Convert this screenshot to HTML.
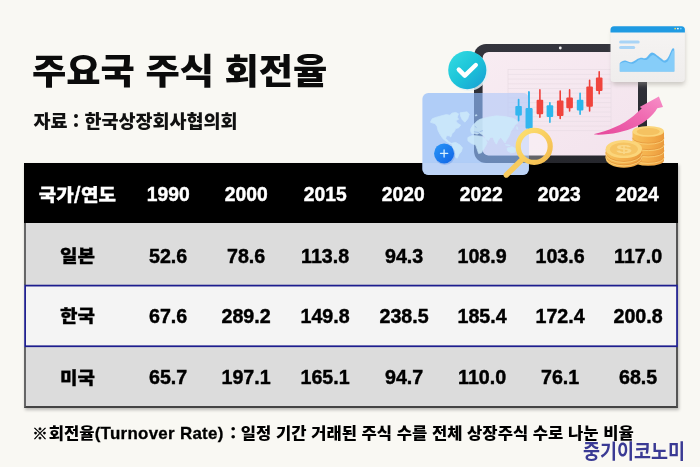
<!DOCTYPE html>
<html lang="ko">
<head>
<meta charset="utf-8">
<title>주요국 주식 회전율</title>
<style>
html,body{margin:0;padding:0;}
body{width:700px;height:467px;position:relative;overflow:hidden;background:#f9f8f3;font-family:"Liberation Sans","Noto Sans CJK KR",sans-serif;color:#111;}
.abs{position:absolute;white-space:nowrap;}
#title{left:32.4px;top:43.6px;font-size:37px;font-weight:900;line-height:54px;letter-spacing:0px;color:#0b0b0b;transform:scale(1.008,.94);transform-origin:left top;}
#sub{left:33.5px;top:106px;font-size:18.5px;line-height:28px;color:#111;}
#tbl{left:24px;top:163px;width:654px;height:245px;box-shadow:1px 2px 3px rgba(0,0,0,.25);}
.row{position:absolute;left:0;width:654px;box-sizing:border-box;}
#rh{top:0;height:60px;background:#000;color:#fff;}
#r1{top:60px;height:62px;background:#dcdcdc;color:#000;border-left:2px solid #666;border-right:2px solid #555;}
#r2{color:#000;top:121.5px;height:62px;background:#f4f4f4;border:2px solid transparent;background-clip:border-box;}
#r3{color:#000;top:183.6px;height:61.4px;background:#dcdcdc;border-left:2px solid #666;border-right:2px solid #555;border-bottom:2px solid #444;}
.c{position:absolute;top:0;height:100%;width:80px;margin-left:-40px;text-align:center;font-weight:700;font-size:20.8px;display:flex;align-items:center;justify-content:center;transform:translateX(-1.9px) scaleX(.945);-webkit-text-stroke:.45px currentColor;padding-top:3px;box-sizing:border-box;}
#rh .c{transform:translateX(.2px) scaleX(.925);padding-top:1.6px;}
#rh .c.k{transform:translateX(-.6px) scale(1.035,.93);}
.c.k{font-size:18.4px;transform:translate(-2.5px,.3px) scale(1.035,.93);padding-top:0;-webkit-text-stroke:.3px currentColor;}
.k{font-family:"Noto Sans CJK KR",sans-serif;font-weight:900;}
#note{left:32.3px;top:420px;font-size:16.6px;font-weight:700;line-height:24px;color:#000;}
#note .k{display:inline-block;transform:scaleY(.93);transform-origin:center 55%;}
#note .e{font-size:16.9px;letter-spacing:.3px;-webkit-text-stroke:.3px #000;}
#logo{left:582.6px;top:436.1px;font-size:20.6px;line-height:28px;font-weight:700;color:#3a3a94;transform:scaleX(.898);transform-origin:left center;font-family:"Noto Sans CJK KR",sans-serif;}
#r2 .c,#r3 .c{margin-top:-1.1px;}
</style>
</head>
<body>
<div id="title" class="abs k">주요국 주식 회전율</div>
<div id="sub" class="abs k">자료 : 한국상장회사협의회</div>

<div id="tbl" class="abs">
  <div id="rh" class="row">
    <div class="c k" style="left:54px">국가/연도</div>
    <div class="c" style="left:144px">1990</div>
    <div class="c" style="left:222px">2000</div>
    <div class="c" style="left:301px">2015</div>
    <div class="c" style="left:379px">2020</div>
    <div class="c" style="left:457px">2022</div>
    <div class="c" style="left:535px">2023</div>
    <div class="c" style="left:613px">2024</div>
  </div>
  <div id="r1" class="row">
    <div class="c k" style="left:54px">일본</div>
    <div class="c" style="left:144px">52.6</div>
    <div class="c" style="left:222.2px">78.6</div>
    <div class="c" style="left:301.4px">113.8</div>
    <div class="c" style="left:379.6px">94.3</div>
    <div class="c" style="left:457.8px">108.9</div>
    <div class="c" style="left:536px">103.6</div>
    <div class="c" style="left:614.2px">117.0</div>
  </div>
  <div id="r2" class="row">
    <div class="c k" style="left:54px">한국</div>
    <div class="c" style="left:144px">67.6</div>
    <div class="c" style="left:222.2px">289.2</div>
    <div class="c" style="left:301.4px">149.8</div>
    <div class="c" style="left:379.6px">238.5</div>
    <div class="c" style="left:457.8px">185.4</div>
    <div class="c" style="left:536px">172.4</div>
    <div class="c" style="left:614.2px">200.8</div>
  </div>
  <div id="r3" class="row">
    <div class="c k" style="left:54px">미국</div>
    <div class="c" style="left:144px">65.7</div>
    <div class="c" style="left:222.2px">197.1</div>
    <div class="c" style="left:301.4px">165.1</div>
    <div class="c" style="left:379.6px">94.7</div>
    <div class="c" style="left:457.8px">110.0</div>
    <div class="c" style="left:536px">76.1</div>
    <div class="c" style="left:614.2px">68.5</div>
  </div>
</div>


<svg id="art" class="abs" style="left:0;top:0" width="700" height="467" viewBox="0 0 700 467">
<defs>
  <linearGradient id="gBezel" x1="0" y1="0" x2="0" y2="1"><stop offset="0" stop-color="#34353d"/><stop offset="1" stop-color="#26272d"/></linearGradient>
  <linearGradient id="gScreen" x1="0" y1="0" x2="1" y2="1"><stop offset="0" stop-color="#f8ecf2"/><stop offset="1" stop-color="#f3e3ed"/></linearGradient>
  <linearGradient id="gCheck" x1="0" y1="0" x2="1" y2="1"><stop offset="0" stop-color="#35dde2"/><stop offset=".5" stop-color="#1cc4d9"/><stop offset="1" stop-color="#1a9cd3"/></linearGradient>
  <linearGradient id="gCard" x1="0" y1="0" x2="1" y2="1"><stop offset="0" stop-color="#a9c9f8"/><stop offset="1" stop-color="#c4d8f8"/></linearGradient>
  <linearGradient id="gPlus" x1="0" y1="0" x2="1" y2="1"><stop offset="0" stop-color="#2a97f7"/><stop offset="1" stop-color="#0f63e6"/></linearGradient>
  <linearGradient id="gRing" x1="0" y1="0" x2="1" y2="1"><stop offset="0" stop-color="#fde172"/><stop offset="1" stop-color="#f4bb4d"/></linearGradient>
  <linearGradient id="gArrow" x1="0" y1="1" x2="1" y2="0"><stop offset="0" stop-color="#e6479b"/><stop offset=".6" stop-color="#f06cb2"/><stop offset="1" stop-color="#f78fc8"/></linearGradient>
  <linearGradient id="gCoinSide" x1="0" y1="0" x2="1" y2="0"><stop offset="0" stop-color="#f7c15c"/><stop offset=".6" stop-color="#f3ac49"/><stop offset="1" stop-color="#ea9a3c"/></linearGradient>
  <linearGradient id="gWin" x1="0" y1="0" x2="0" y2="1"><stop offset="0" stop-color="#f6f4f3"/><stop offset="1" stop-color="#efedec"/></linearGradient>
  <filter id="fSh" x="-20%" y="-20%" width="140%" height="150%"><feGaussianBlur stdDeviation="2"/></filter>
  <clipPath id="cpCard"><rect x="422.4" y="92.9" width="106.5" height="82" rx="6"/></clipPath>
</defs>

<rect x="25.1" y="285.6" width="651.95" height="60.65" fill="none" stroke="#1d1d8e" stroke-width="1.75"/>
<!-- tablet -->
<g id="tablet">
  <rect x="474" y="44" width="173" height="119" rx="12" fill="url(#gBezel)"/>
  <rect x="482.6" y="52" width="155.4" height="103.4" rx="6" fill="url(#gScreen)"/>
  <circle cx="560.3" cy="48" r="1.4" fill="#f2f2f2"/>
  <!-- chart grid -->
  <g stroke="#e4d8e0" stroke-width=".5" fill="none">
    <rect x="508" y="69.7" width="103" height="61.1"/>
    <path d="M508 74.4h103M508 79.1h103M508 83.8h103M508 88.5h103M508 93.2h103M508 97.9h103M508 102.6h103M508 107.3h103M508 112h103M508 116.7h103M508 121.4h103M508 126.1h103"/>
  </g>
  <!-- candles -->
  <g stroke-linecap="round">
    <g stroke="#27b5ea" stroke-width="1.6"><path d="M518.6 99.6V120.6M528.9 92V129M549.9 102.8V122.2M580.1 93.2V114.2"/></g>
    <g fill="#2bb7ec">
      <rect x="515.4" y="106.1" width="6.4" height="9.3" rx="1"/>
      <rect x="525.6" y="107.9" width="6.8" height="20.6" rx="1"/>
      <rect x="546.6" y="105.3" width="6.6" height="11.6" rx="1"/>
      <rect x="576.8" y="99.7" width="6.6" height="10.7" rx="1"/>
    </g>
    <g stroke="#ef3f3a" stroke-width="1.6"><path d="M539.9 89.9V117.3M560.2 91V118.4M569.6 89.9V110.9M589.6 80.3V110.9M599.2 71.7V93.7"/></g>
    <g fill="#f0443d">
      <rect x="536.6" y="99.7" width="6.6" height="14.6" rx="1"/>
      <rect x="556.9" y="100.4" width="6.6" height="15.6" rx="1"/>
      <rect x="566.3" y="97.6" width="6.6" height="10.7" rx="1"/>
      <rect x="586.3" y="86.4" width="6.6" height="20.4" rx="1"/>
      <rect x="595.9" y="77.4" width="6.6" height="13.7" rx="1"/>
    </g>
  </g>
</g>

<!-- window card -->
<g id="win">
  <rect x="612" y="30" width="73" height="55" rx="4" fill="#9b9690" opacity=".45" filter="url(#fSh)"/>
  <rect x="610.5" y="26.3" width="74.4" height="55.7" rx="3.5" fill="url(#gWin)"/>
  <path d="M610.5 32.4v-2.6a3.5 3.5 0 0 1 3.5-3.5h67.4a3.5 3.5 0 0 1 3.5 3.5v2.6z" fill="#1f9ae2"/>
  <circle cx="675.2" cy="28.6" r=".9" fill="#f6d860"/><circle cx="677.9" cy="28.6" r=".9" fill="#ffffff"/><circle cx="680.8" cy="28.6" r=".9" fill="#6fd0ff"/>
  <rect x="619.1" y="40.5" width="20.6" height="3" rx="1.5" fill="#a9d4f6"/>
  <rect x="619.1" y="46" width="16.1" height="3" rx="1.5" fill="#a9d4f6"/>
  <path d="M619.8 71.4V62.2C621.5 60.2 623.5 59 625.5 59.3S629 61.6 631.4 61.2S637 57 640 56.4S643.5 57.6 645.5 56.6S650 50.4 652 50.3S657 53.5 660.6 56.5S664 60.2 666.5 58.2S671.5 46 672.9 45.8S674.3 46.6 674.3 47.8V71.4Z" fill="#5fb7f2" transform="translate(0 71.4) scale(1 .9) translate(0 -71.4)"/>
  <path d="M619.8 71.4V63C622 61.4 624 60.6 626 61S630 63.4 633 62.8S637.5 58.6 640.5 58S644 59.6 646.5 58.6S651 53 653 53.2S658 57 661 59.5S665.5 62.4 667.5 60.4S671.8 48.6 673 48.2S674.3 49 674.3 49.6V71.4Z" fill="#86cdf9" transform="translate(0 71.4) scale(1 .9) translate(0 -71.4)"/>
</g>

<!-- check badge -->
<g id="check">
  <circle cx="468.6" cy="71.6" r="19.4" fill="#e4f1f4" opacity=".85"/>
  <circle cx="467.3" cy="70.1" r="19.1" fill="url(#gCheck)"/>
  <path d="M458.8 69.6l6 6 11-10.6" fill="none" stroke="#fff" stroke-width="4.4" stroke-linecap="round" stroke-linejoin="round"/>
</g>

<!-- map card -->
<g id="card">
  <rect x="422.4" y="92.9" width="106.5" height="82" rx="6" fill="#8cb8f9" opacity=".67"/>
  <g clip-path="url(#cpCard)">
    <rect x="482.6" y="52" width="155.4" height="103.4" rx="6" fill="#fbecf3" opacity=".36"/>
    <rect x="420" y="163" width="112" height="14" fill="#bdd3f6"/>
  </g>
  <g fill="#cdeafb" stroke="#cdeafb" stroke-width="5" stroke-linejoin="round" opacity=".88" transform="translate(425 105) scale(.142857)">
    <path d="M38 120L50 97 75 87 110 77 150 67 175 72 188 57 215 52 235 62 225 85 235 100 215 110 230 130 250 140 235 160 215 165 205 185 190 200 180 225 170 215 150 215 145 235 165 255 185 270 175 272 150 255 125 235 105 205 90 175 85 150 70 130 50 125Z"/>
    <path d="M245 55L295 48 310 65 300 95 280 120 262 105 250 80Z"/>
    <path d="M185 268L215 262 245 280 262 300 255 325 238 345 226 372 214 366 205 330 195 300Z"/>
    <path d="M350 70l12-4 4 8-12 4z" stroke-width="2"/>
    <path d="M300 228L330 214 365 216 400 220 420 234 435 262 425 285 410 310 395 335 375 340 365 310 355 280 325 270 300 250Z"/>
    <path d="M320 168L335 142 350 127 365 112 385 100 440 86 500 76 560 81 610 91 640 106 650 125 630 140 615 165 600 185 590 215 575 240 560 265 545 245 530 225 510 250 500 274 490 260 475 225 455 228 445 248 425 238 415 215 395 204 380 196 365 204 345 199 330 203 320 186Z"/>
    <path d="M575 302L610 292 635 306 630 330 600 335 577 320Z"/>
    <path d="M560 276l30 3 8 8-30-3z" stroke-width="2"/>
    <path d="M640 150l8 4 2 20-8-6z" stroke-width="2"/>
  </g>
  <g stroke="#93b4e4" stroke-width="1" stroke-linecap="round" fill="none" opacity=".75" transform="translate(425 105) scale(.142857)"><path d="M345 188l30 4M385 186l18-6M350 150l8 6" stroke-width="7"/></g>
  <!-- candles in front of card -->
  <g stroke="#2fb4ee" stroke-width="1.6" stroke-linecap="round"><path d="M518.6 99.6V120.6M528.9 92V129"/></g>
  <g fill="#33b6ef"><rect x="515.4" y="106.1" width="6.4" height="9.3" rx="1"/><rect x="525.6" y="107.9" width="6.8" height="20.6" rx="1"/></g>
  <circle cx="444.8" cy="154.6" r="10.4" fill="#6f9be6" opacity=".45"/>
  <circle cx="444.1" cy="153.4" r="10" fill="url(#gPlus)"/>
  <path d="M444.1 149.8v7.2M440.5 153.4h7.2" stroke="#d7f0ff" stroke-width="1.3" stroke-linecap="round"/>
</g>

<!-- magnifier -->
<g id="mag">
  <circle cx="534.2" cy="146.4" r="14" fill="#ffffff" opacity=".28"/>
  <path d="M521.4 160.2L506.3 175" stroke="#f8cb5e" stroke-width="5.4" stroke-linecap="round"/>
  <circle cx="534.2" cy="146.4" r="16" fill="none" stroke="url(#gRing)" stroke-width="5.2"/>
</g>

<!-- arrow -->
<g id="arrow">
  <path d="M594.3 133.9C607.1 131.1 622.6 125.1 633.7 115.7C637.1 112.6 640.1 109.9 641.8 108.2L639.7 107.0L658.9 96.5L663.0 107.1L657.2 108.3C653.4 115.4 644.9 122.6 636.3 126.5C624.3 132.0 608.9 135.3 594.3 134.6Z" fill="url(#gArrow)"/>
</g>

<!-- coins -->
<g id="coins">
  <!-- tall stack -->
  <path d="M632.5 131.4V160.4A15.75 5.4 0 0 0 664 160.4V131.4Z" fill="url(#gCoinSide)"/>
  <g fill="none" stroke="#e2933a" stroke-width=".9" opacity=".8">
    <path d="M632.5 137.8A15.75 5.4 0 0 0 664 137.8"/><path d="M632.5 144.2A15.75 5.4 0 0 0 664 144.2"/><path d="M632.5 150.6A15.75 5.4 0 0 0 664 150.6"/><path d="M632.5 157A15.75 5.4 0 0 0 664 157"/>
  </g>
  <g fill="none" stroke="#fbd27a" stroke-width=".9" opacity=".9">
    <path d="M632.5 138.8A15.75 5.4 0 0 0 664 138.8"/><path d="M632.5 145.2A15.75 5.4 0 0 0 664 145.2"/><path d="M632.5 151.6A15.75 5.4 0 0 0 664 151.6"/><path d="M632.5 158A15.75 5.4 0 0 0 664 158"/>
  </g>
  <ellipse cx="648.25" cy="131.4" rx="15.75" ry="5.4" fill="#fbd67c"/>
  <ellipse cx="648.25" cy="131.6" rx="11.6" ry="3.6" fill="#f5c261"/>
  <!-- short stack -->
  <path d="M605.7 149V158.6A18.2 9.1 0 0 0 642.1 158.6V149Z" fill="url(#gCoinSide)"/>
  <g fill="none" stroke="#e2933a" stroke-width=".9" opacity=".8">
    <path d="M605.7 152.4A18.2 9.1 0 0 0 642.1 152.4"/><path d="M605.7 155.8A18.2 9.1 0 0 0 642.1 155.8"/>
  </g>
  <g fill="none" stroke="#fbd27a" stroke-width=".9" opacity=".9">
    <path d="M605.7 153.4A18.2 9.1 0 0 0 642.1 153.4"/><path d="M605.7 156.8A18.2 9.1 0 0 0 642.1 156.8"/>
  </g>
  <ellipse cx="623.9" cy="149" rx="18.2" ry="9.1" fill="#fbd57a"/>
  <ellipse cx="623.9" cy="149.2" rx="14" ry="6.6" fill="#f6c463"/>
  <text x="623.9" y="154.3" font-family="Liberation Sans, sans-serif" font-weight="700" font-size="15" fill="#fad889" text-anchor="middle" transform="translate(623.9 149.2) scale(1.9 .78) translate(-623.9 -149.2)">$</text>
</g>
</svg>

<div id="note" class="abs"><span class="k"><span style="-webkit-text-stroke:.5px #000;font-size:15.5px;letter-spacing:1px">※</span>회전율</span><span class="e">(Turnover Rate)</span> <span class="k" style="margin-left:2px">: 일정 기간 거래된 주식 수를 전체 상장주식 수로 나눈 비율</span></div>
<div id="logo" class="abs">중기이코노미</div>
</body>
</html>
